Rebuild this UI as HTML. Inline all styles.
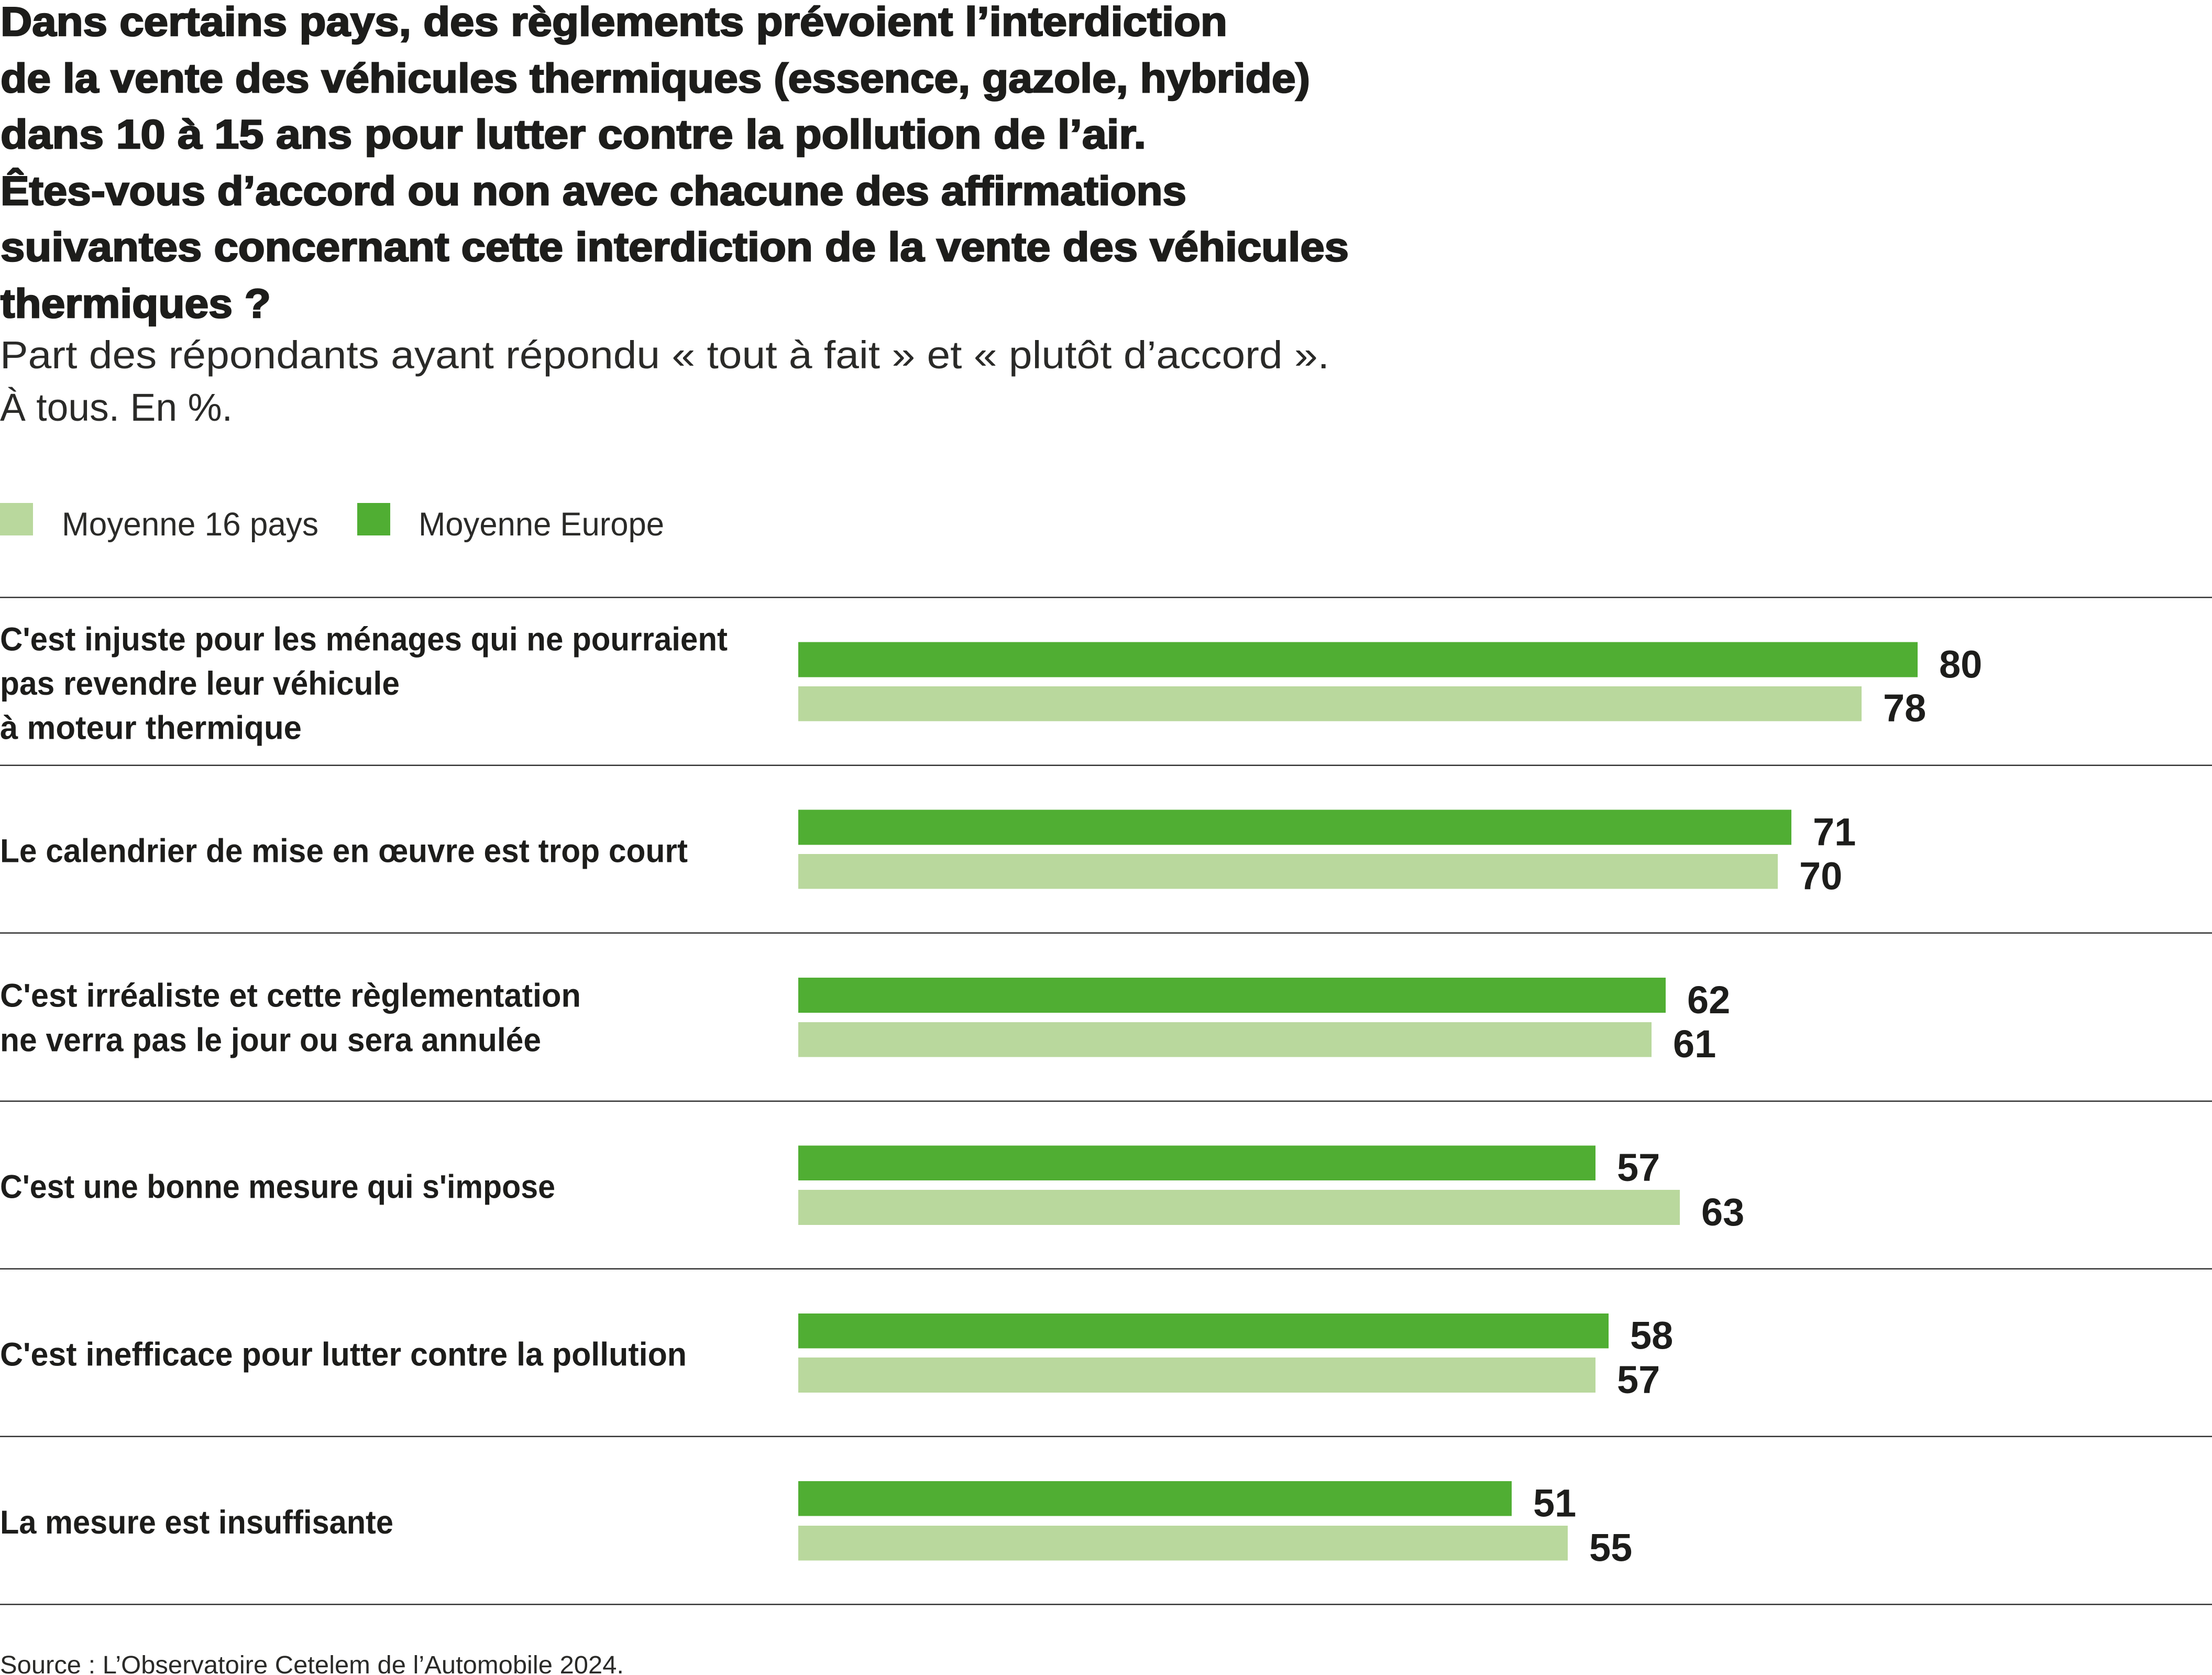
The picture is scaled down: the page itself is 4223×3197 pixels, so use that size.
<!DOCTYPE html>
<html>
<head>
<meta charset="utf-8">
<style>
  html, body { margin: 0; padding: 0; background: #ffffff; }
  body { width: 4223px; height: 3197px; overflow: hidden; }
  svg { display: block; }
  text { font-family: "Liberation Sans", "DejaVu Sans", sans-serif; fill: #1d1d1b; }
  .t { font-size: 78px; font-weight: bold; stroke: #1d1d1b; stroke-width: 2.6px; paint-order: stroke; }
  .s { font-size: 74px; font-weight: normal; fill: #2a2a28; }
  .lg { font-size: 63px; font-weight: normal; fill: #2a2a28; }
  .lb { font-size: 63px; font-weight: bold; }
  .v { font-size: 74px; font-weight: bold; }
  .src { font-size: 48px; font-weight: normal; fill: #2a2a28; }
</style>
</head>
<body>
<svg width="4223" height="3197" viewBox="0 0 4223 3197" xmlns="http://www.w3.org/2000/svg">
  <rect x="0" y="0" width="4223" height="3197" fill="#ffffff"/>

  <!-- Title -->
  <text class="t" x="1" y="68" textLength="2342" lengthAdjust="spacingAndGlyphs">Dans certains pays, des règlements prévoient l’interdiction</text>
  <text class="t" x="1" y="176" textLength="2500" lengthAdjust="spacingAndGlyphs">de la vente des véhicules thermiques (essence, gazole, hybride)</text>
  <text class="t" x="1" y="283" textLength="2187" lengthAdjust="spacingAndGlyphs">dans 10 à 15 ans pour lutter contre la pollution de l’air.</text>
  <text class="t" x="1" y="391" textLength="2264" lengthAdjust="spacingAndGlyphs">Êtes-vous d’accord ou non avec chacune des affirmations</text>
  <text class="t" x="1" y="498" textLength="2574" lengthAdjust="spacingAndGlyphs">suivantes concernant cette interdiction de la vente des véhicules</text>
  <text class="t" x="1" y="606" textLength="516" lengthAdjust="spacingAndGlyphs">thermiques ?</text>

  <!-- Subtitle -->
  <text class="s" x="0" y="703" textLength="2538" lengthAdjust="spacingAndGlyphs">Part des répondants ayant répondu « tout à fait » et « plutôt d’accord ».</text>
  <text class="s" x="0" y="803" textLength="444" lengthAdjust="spacingAndGlyphs">À tous. En %.</text>

  <!-- Legend -->
  <rect x="0" y="960" width="63" height="62" fill="#b9d89d"/>
  <text class="lg" x="118" y="1022" textLength="490" lengthAdjust="spacingAndGlyphs">Moyenne 16 pays</text>
  <rect x="682" y="960" width="63" height="62" fill="#50ae33"/>
  <text class="lg" x="799" y="1022" textLength="469" lengthAdjust="spacingAndGlyphs">Moyenne Europe</text>

  <!-- Separators -->
  <g fill="#333333">
    <rect x="0" y="1139" width="4223" height="2.5"/>
    <rect x="0" y="1459.5" width="4223" height="2.5"/>
    <rect x="0" y="1779.5" width="4223" height="2.5"/>
    <rect x="0" y="2100.5" width="4223" height="2.5"/>
    <rect x="0" y="2420.5" width="4223" height="2.5"/>
    <rect x="0" y="2740.5" width="4223" height="2.5"/>
    <rect x="0" y="3061" width="4223" height="2.5"/>
  </g>

  <!-- Category labels -->
  <text class="lb" x="0" y="1241.5" textLength="1389" lengthAdjust="spacingAndGlyphs">C'est injuste pour les ménages qui ne pourraient</text>
  <text class="lb" x="0" y="1326" textLength="763" lengthAdjust="spacingAndGlyphs">pas revendre leur véhicule</text>
  <text class="lb" x="0" y="1410.5" textLength="576" lengthAdjust="spacingAndGlyphs">à moteur thermique</text>

  <text class="lb" x="0" y="1645.5" textLength="1313" lengthAdjust="spacingAndGlyphs">Le calendrier de mise en œuvre est trop court</text>

  <text class="lb" x="0" y="1921.5" textLength="1109" lengthAdjust="spacingAndGlyphs">C'est irréaliste et cette règlementation</text>
  <text class="lb" x="0" y="2006.5" textLength="1033" lengthAdjust="spacingAndGlyphs">ne verra pas le jour ou sera annulée</text>

  <text class="lb" x="0" y="2286.5" textLength="1060" lengthAdjust="spacingAndGlyphs">C'est une bonne mesure qui s'impose</text>

  <text class="lb" x="0" y="2606.5" textLength="1311" lengthAdjust="spacingAndGlyphs">C'est inefficace pour lutter contre la pollution</text>

  <text class="lb" x="0" y="2927" textLength="751" lengthAdjust="spacingAndGlyphs">La mesure est insuffisante</text>

  <!-- Bars: group 1 -->
  <rect x="1524" y="1225.5" width="2137" height="67" fill="#50ae33"/>
  <rect x="1524" y="1310" width="2030" height="66.5" fill="#b9d89d"/>
  <text class="v" x="3702" y="1293.5">80</text>
  <text class="v" x="3595" y="1377">78</text>

  <!-- group 2 -->
  <rect x="1524" y="1545.5" width="1896" height="67" fill="#50ae33"/>
  <rect x="1524" y="1630" width="1870" height="66.5" fill="#b9d89d"/>
  <text class="v" x="3461" y="1613.5">71</text>
  <text class="v" x="3435" y="1697.5">70</text>

  <!-- group 3 -->
  <rect x="1524" y="1866" width="1656" height="67" fill="#50ae33"/>
  <rect x="1524" y="1951" width="1629" height="66.5" fill="#b9d89d"/>
  <text class="v" x="3221" y="1934">62</text>
  <text class="v" x="3194" y="2018">61</text>

  <!-- group 4 -->
  <rect x="1524" y="2186.5" width="1522" height="66.5" fill="#50ae33"/>
  <rect x="1524" y="2271" width="1683" height="67" fill="#b9d89d"/>
  <text class="v" x="3087" y="2254">57</text>
  <text class="v" x="3248" y="2339">63</text>

  <!-- group 5 -->
  <rect x="1524" y="2507" width="1547" height="66.5" fill="#50ae33"/>
  <rect x="1524" y="2591" width="1522" height="67" fill="#b9d89d"/>
  <text class="v" x="3112" y="2574.5">58</text>
  <text class="v" x="3087" y="2659">57</text>

  <!-- group 6 -->
  <rect x="1524" y="2827" width="1362" height="66.5" fill="#50ae33"/>
  <rect x="1524" y="2912" width="1469" height="66.5" fill="#b9d89d"/>
  <text class="v" x="2927" y="2894.5">51</text>
  <text class="v" x="3034" y="2979.5">55</text>

  <!-- Source -->
  <text class="src" x="0" y="3194" textLength="1191" lengthAdjust="spacingAndGlyphs">Source : L’Observatoire Cetelem de l’Automobile 2024.</text>
</svg>
</body>
</html>
